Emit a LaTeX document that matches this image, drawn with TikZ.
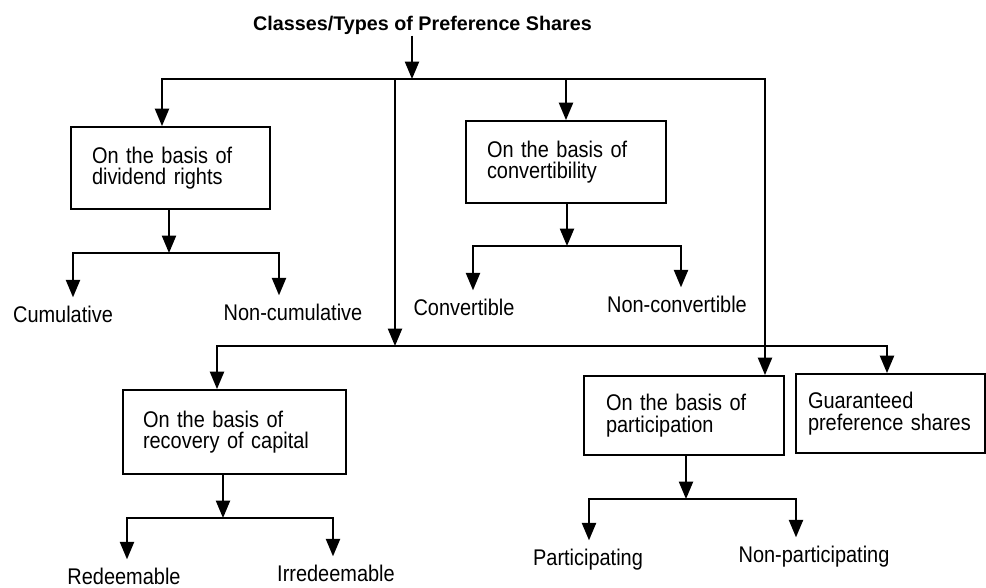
\documentclass[tikz,border=0pt]{standalone}
\usepackage{fontspec}
\setmainfont{Liberation Sans}[FakeStretch=0.88]
\newfontfamily\headfont{Liberation Sans}
\usetikzlibrary{arrows.meta}

\begin{document}
\begin{tikzpicture}[x=0.75pt, y=-0.75pt,
  every node/.style={font=\fontsize{17pt}{16pt}\selectfont},
  line/.style={line width=1.5pt, line cap=rect},
  arr/.style={line width=1.5pt, -{Triangle[width=10.5pt,length=13pt]}},
  leafarr/.style={arr, shorten >=6pt},
  box/.style={draw, line width=1.4pt, align=left, inner ysep=0pt},
  leaf/.style={inner sep=0pt, anchor=base}
]
\useasboundingbox[fill=white] (0,0) rectangle (986,587);

% title
\node[anchor=base, inner sep=1pt, font=\headfont\fontsize{14.8pt}{16pt}\selectfont\bfseries]
  (title) at (422.5,30) {Classes/Types of Preference Shares};

% category boxes
\node[box, text width=117.75pt, inner xsep=15.75pt, minimum height=61.5pt]
  (b1) at (170.5,168) {On the basis of\\dividend rights};
\node[box, text width=118.5pt, inner xsep=15.75pt, minimum height=61.5pt]
  (b2) at (566,162) {On the basis of\\convertibility};
\node[box, text width=137.25pt, inner xsep=15pt, minimum height=63pt]
  (b3) at (234.5,432) {On the basis of\\recovery of capital};
\node[box, text width=117pt, inner xsep=16.5pt, minimum height=59.25pt]
  (b4) at (684,415.5) {On the basis of\\participation};
\node[box, text width=123.75pt, inner xsep=9pt, minimum height=59.25pt]
  (b5) at (890.5,413.5) {Guaranteed\\preference~shares};

% leaf labels
\node[leaf] (cum)     at (63,322)  {Cumulative};
\node[leaf] (noncum)  at (293,320) {Non-cumulative};
\node[leaf] (conv)    at (464,315) {Convertible};
\node[leaf] (nonconv) at (677,312) {Non-convertible};
\node[leaf] (red)     at (124,584) {Redeemable};
\node[leaf] (irred)   at (336,581) {Irredeemable};
\node[leaf] (part)    at (588,565) {Participating};
\node[leaf] (nonpart) at (814,562) {Non-participating};

% junction points
\coordinate (ta)  at (412,79);
\coordinate (tl)  at (162,79);
\coordinate (tm)  at (395,79);
\coordinate (tc)  at (566,79);
\coordinate (tr)  at (765,79);
\coordinate (mm)  at (395,346);
\coordinate (ml)  at (217,346);
\coordinate (mr)  at (887,346);
\coordinate (s1)  at (169,253);
\coordinate (j1l) at (73,253);
\coordinate (j1r) at (279,253);
\coordinate (s2)  at (567,246);
\coordinate (j2l) at (473,246);
\coordinate (j2r) at (681,246);
\coordinate (s3)  at (223,518);
\coordinate (j3l) at (127,518);
\coordinate (j3r) at (333,518);
\coordinate (s4)  at (686,499);
\coordinate (j4l) at (589,499);
\coordinate (j4r) at (796,499);

% top level
\draw[arr] (title.south -| ta) -- (ta);
\draw[line] (tl) -- (tr);
\draw[arr] (tl) -- (tl |- b1.north);
\draw[arr] (tm) -- (mm);
\draw[arr] (tc) -- (tc |- b2.north);
\draw[arr] (tr) -- (tr |- b4.north);

% second level
\draw[line] (ml) -- (mr);
\draw[arr] (ml) -- (ml |- b3.north);
\draw[arr] (mr) -- (mr |- b5.north);

% dividend rights
\draw[arr] (b1.south -| s1) -- (s1);
\draw[line] (j1l) -- (j1r);
\draw[leafarr] (j1l) -- (j1l |- cum.north);
\draw[leafarr] (j1r) -- (j1r |- noncum.north);

% convertibility
\draw[arr] (b2.south -| s2) -- (s2);
\draw[line] (j2l) -- (j2r);
\draw[leafarr] (j2l) -- (j2l |- conv.north);
\draw[leafarr] (j2r) -- (j2r |- nonconv.north);

% recovery of capital
\draw[arr] (b3.south -| s3) -- (s3);
\draw[line] (j3l) -- (j3r);
\draw[leafarr] (j3l) -- (j3l |- red.north);
\draw[leafarr] (j3r) -- (j3r |- irred.north);

% participation
\draw[arr] (b4.south -| s4) -- (s4);
\draw[line] (j4l) -- (j4r);
\draw[leafarr] (j4l) -- (j4l |- part.north);
\draw[leafarr] (j4r) -- (j4r |- nonpart.north);
\end{tikzpicture}
\end{document}
